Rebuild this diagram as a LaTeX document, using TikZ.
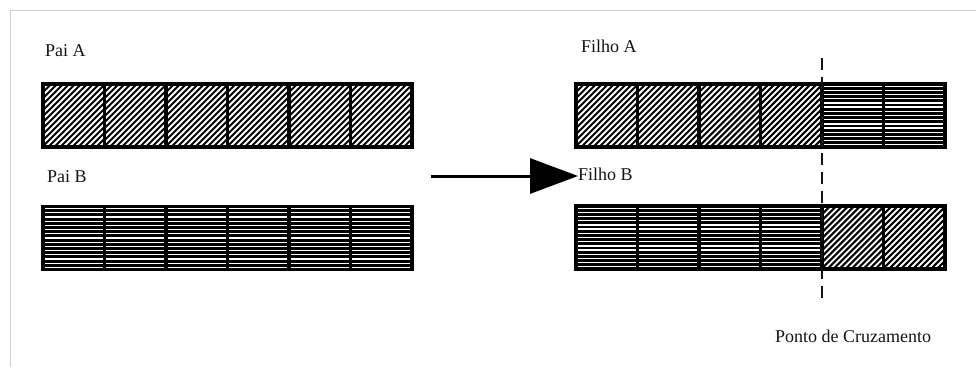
\documentclass[tikz,border=0pt]{standalone}
\usepackage{fontspec}
\setmainfont{Liberation Serif}
\usetikzlibrary{arrows.meta}
\definecolor{framegray}{RGB}{208,208,208}
\definecolor{ink}{RGB}{20,20,20}
\tikzset{
  cell/.style={draw=black, line width=3.5pt, minimum width=61.5pt,
    minimum height=63pt, inner sep=0pt, outer sep=0pt},
  % gene filled with diagonal stripes
  diag/.style={cell, path picture={
    \foreach \k in {-16,...,16}
      \draw[black, line width=2.1pt]
        ([xshift=\k*6pt]path picture bounding box.center) ++(-45pt,-45pt) -- ++(90pt,90pt);
  }},
  % gene filled with dense horizontal lines
  horiz/.style={cell, path picture={
    \fill[black] (path picture bounding box.south west) rectangle (path picture bounding box.north east);
    \foreach \k in {-7,...,7}
      \draw[white, line width=1.3pt]
        ([yshift=\k*4.2pt]path picture bounding box.west) -- ([yshift=\k*4.2pt]path picture bounding box.east);
  }},
  lbl/.style={anchor=base west, inner sep=0pt, text=ink,
    font=\fontsize{18}{21}\selectfont},
  cut/.style={draw=ink, line width=2pt, dash pattern=on 12pt off 7pt},
  move/.style={draw=black, line width=3pt, -{Triangle[length=48pt,width=35pt]}}
}
\begin{document}
\begin{tikzpicture}[x=1pt,y=-1pt]
  \useasboundingbox (0,0) rectangle (976,367);
  % light frame around the figure
  \draw[framegray, line width=1.5pt] (10.5,367) -- (10.5,10.5) -- (976,10.5);

  % parent chromosomes
  \foreach \i in {0,...,5} {
    \node[diag]  (pa\i) at ({43+30.75+61.5*\i},115.5) {};
    \node[horiz] (pb\i) at ({43+30.75+61.5*\i},238) {};
  }
  % offspring chromosomes, genes swapped after the fourth position
  \foreach \i in {0,...,3} {
    \node[diag]  (fa\i) at ({576+30.75+61.5*\i},115.5) {};
    \node[horiz] (fb\i) at ({576+30.75+61.5*\i},237.5) {};
  }
  \foreach \i in {4,5} {
    \node[horiz] (fa\i) at ({576+30.75+61.5*\i},115.5) {};
    \node[diag]  (fb\i) at ({576+30.75+61.5*\i},237.5) {};
  }

  % labels
  \node[lbl] (paiA)   at (45,56)   {Pai A};
  \node[lbl] (paiB)   at (47,182)  {Pai B};
  \node[lbl] (filhoA) at (581,52)  {Filho A};
  \node[lbl] (filhoB) at (578,180) {Filho B};
  \node[lbl] (ponto)  at (775,342) {Ponto de Cruzamento};

  % crossover arrow
  \coordinate (arrowStart) at (431,176);
  \draw[move] (arrowStart) -- (arrowStart -| filhoB.west);

  % crossover point
  \coordinate (cutTop) at (fa3.east |- 0,58);
  \coordinate (cutBot) at (fb3.east |- 0,302);
  \draw[cut] (cutTop) -- (cutBot);
\end{tikzpicture}
\end{document}
